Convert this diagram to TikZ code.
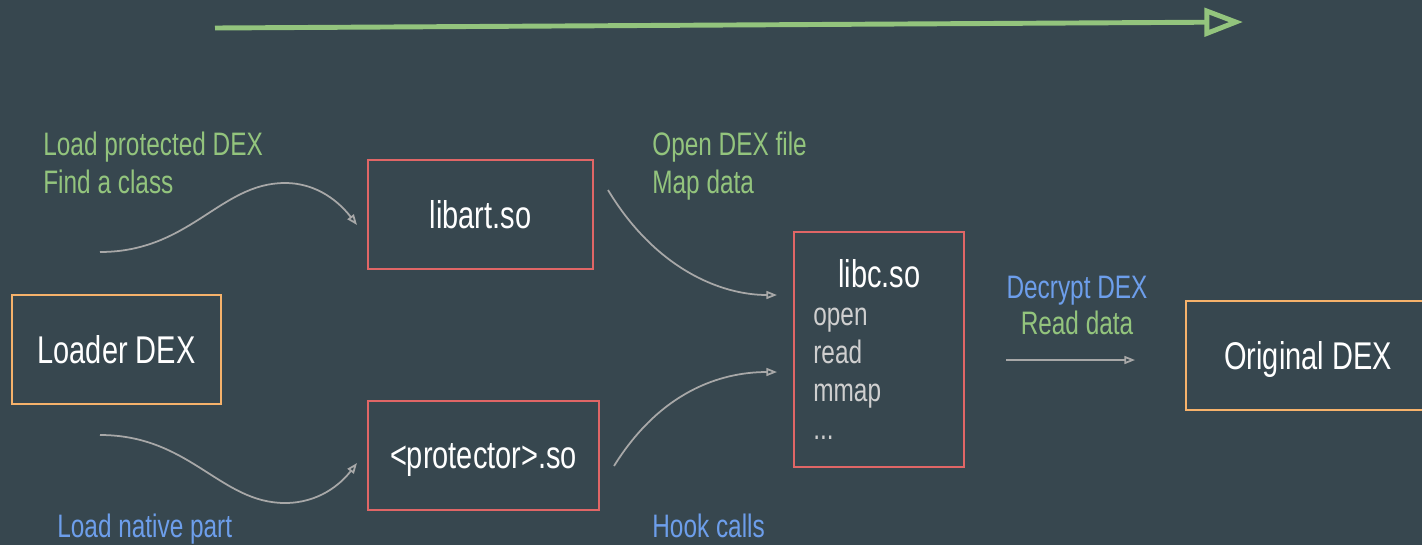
\documentclass[tikz,border=0pt]{standalone}
\usepackage{fontspec}
\setmainfont{Liberation Sans}[FakeStretch=0.75]
\usetikzlibrary{arrows.meta}

\definecolor{slate}{HTML}{37474F}
\definecolor{dexorange}{HTML}{F6B26B}
\definecolor{libred}{HTML}{E06666}
\definecolor{notegreen}{HTML}{93C47D}
\definecolor{noteblue}{HTML}{6D9EEB}
\definecolor{flowgray}{HTML}{A8A8A8}
\definecolor{listgray}{HTML}{CFCFCF}

\tikzset{dexbox/.style = {shape=rectangle,draw=dexorange,line width=1.1pt,inner sep=0pt,text=white,text depth=0pt,font=\fontsize{22}{26}\selectfont}}
\tikzset{libbox/.style = {dexbox,draw=libred}}
\tikzset{note/.style = {inner sep=0pt,font=\fontsize{18.5}{21.5}\selectfont}}
\tikzset{flow/.style = {-{Triangle[open,length=6pt,width=4.5pt]},draw=flowgray,line width=1pt}}
\tikzset{timeline/.style = {-{Triangle[open,length=22pt,width=16pt]},draw=notegreen,line width=2.8pt}}

\begin{document}
\begin{tikzpicture}[x=0.02cm,y=-0.02cm]
          \fill[slate] (0,0) rectangle (1422,545);
          \clip (0,0) rectangle (1422,545);

          % boxes
          \node[dexbox,minimum width=4.18cm,minimum height=2.18cm] (loader) at (116.5,349.5) {Loader DEX};
          \node[libbox,minimum width=4.5cm,minimum height=2.18cm] (libart) at (480.5,214.5) {libart.so};
          \node[libbox,minimum width=4.62cm,minimum height=2.18cm] (protector) at (483.5,455.5) {<protector>.so};
          \node[libbox,minimum width=3.4cm,minimum height=4.7cm] (libc) at (879,349.5) {};
          \node[dexbox,minimum width=4.88cm,minimum height=2.18cm] (original) at (1308,355.5) {Original DEX};

          \node[inner sep=0pt,text=white,font=\fontsize{22}{26}\selectfont,anchor=base] (libc title) at (879.5,287) {libc.so};
          \node[note,text=listgray,anchor=base west] (call open) at (813,325) {open};
          \node[note,text=listgray,anchor=base west] (call read) at (813,363) {read};
          \node[note,text=listgray,anchor=base west] (call mmap) at (813,401) {mmap};
          \node[note,text=listgray,anchor=base west] (call more) at (813,439) {...};

          % labels
          \node[note,text=notegreen,anchor=base west] (load dex) at (43,155) {Load protected DEX};
          \node[note,text=notegreen,anchor=base west] (find class) at (43,193) {Find a class};
          \node[note,text=noteblue,anchor=base west] (load native) at (57,537) {Load native part};
          \node[note,text=notegreen,anchor=base west] (open file) at (652,155) {Open DEX file};
          \node[note,text=notegreen,anchor=base west] (map data) at (652,193) {Map data};
          \node[note,text=noteblue,anchor=base west] (hook calls) at (652,537) {Hook calls};
          \node[note,text=noteblue,anchor=base] (decrypt) at (1077,298) {Decrypt DEX};
          \node[note,text=notegreen,anchor=base] (read data) at (1077,334) {Read data};

          % connectors
          \coordinate (time start) at (215,28);
          \coordinate (time end) at (1243,22);
          \coordinate (dex up) at (100,252);
          \coordinate (art in) at (357,225);
          \coordinate (dex down) at (100,435);
          \coordinate (prot in) at (357,463);
          \coordinate (art out) at (608,190);
          \coordinate (libc in1) at (777,295);
          \coordinate (prot out) at (614,466);
          \coordinate (libc in2) at (777,372);
          \coordinate (libc out) at (1006,360);
          \coordinate (orig in) at (1135,360);

          \draw[timeline] (time start) to (time end);
          \draw[flow] (dex up) .. controls (190,252) and (220,183) .. (285,183) .. controls (318,183) and (340,203) .. (art in);
          \draw[flow] (dex down) .. controls (190,435) and (220,503) .. (285,503) .. controls (318,503) and (340,485) .. (prot in);
          \draw[flow] (art out) .. controls (655,268) and (720,295) .. (libc in1);
          \draw[flow] (prot out) .. controls (660,392) and (720,372) .. (libc in2);
          \draw[flow] (libc out) to (orig in);
        \end{tikzpicture}
\end{document}
